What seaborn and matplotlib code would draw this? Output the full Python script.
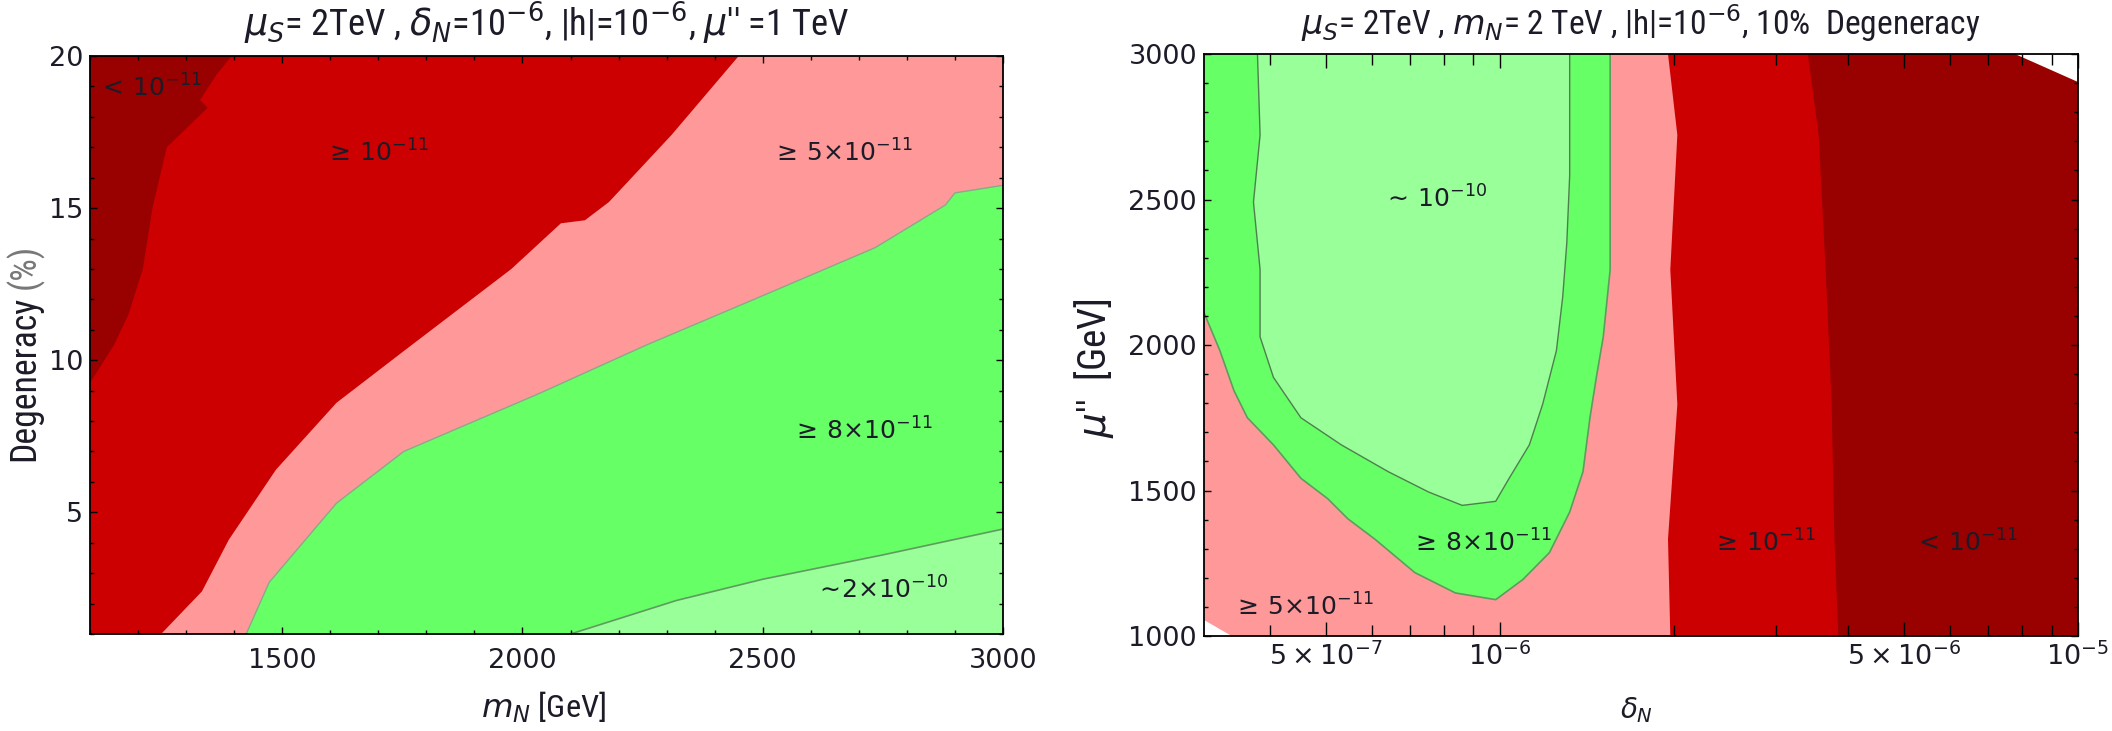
import numpy as np
import matplotlib
matplotlib.use("Agg")
import matplotlib.pyplot as plt
import seaborn as sns
import pandas as pd
from matplotlib import font_manager
from matplotlib.ticker import FixedLocator, FixedFormatter, MultipleLocator, LogLocator, NullFormatter

# ---------------- data: left panel (m_N [GeV] vs degeneracy [%]) ----------------
mN_range = [1100, 3000]
deg_range = [1, 20]
# boundary  < 1e-11  |  >= 1e-11
b1_deg = [20.0, 19.4, 18.55, 18.3, 17.0, 15.0, 13.0, 11.5, 10.5, 9.25]
b1_mN = [1395, 1364, 1329, 1345, 1260, 1230, 1210, 1180, 1150, 1100]
# boundary >= 1e-11 | >= 5e-11
b2_deg = [20.0, 17.4, 15.2, 14.6, 14.5, 13.0, 10.3, 8.6, 6.4, 4.1, 2.4, 1.0]
b2_mN = [2450, 2310, 2180, 2130, 2080, 1977, 1753, 1613, 1487, 1389, 1333, 1248]
# boundary >= 5e-11 | >= 8e-11
b3_mN = [1425, 1473, 1613, 1753, 2034, 2258, 2482, 2734, 2880, 2900, 3000]
b3_deg = [1.0, 2.7, 5.3, 7.0, 8.9, 10.5, 12.0, 13.7, 15.1, 15.5, 15.75]
# boundary >= 8e-11 | ~2e-10
b4_mN = [2100, 2320, 2500, 2750, 3000]
b4_deg = [1.0, 2.1, 2.8, 3.6, 4.45]

left_xticks = [1500, 2000, 2500, 3000]
left_yticks = [5, 10, 15, 20]
left_labels = [r"$<\,10^{-11}$", r"$\geq\,10^{-11}$", r"$\geq\,5{\times}10^{-11}$",
               r"$\geq\,8{\times}10^{-11}$", r"$\sim\!2{\times}10^{-10}$"]
left_label_mN = [1225, 1697, 2665, 2707, 2748]
left_label_deg = [18.95, 16.8, 16.8, 7.66, 2.43]

# ---------------- data: right panel (delta_N vs mu'' [GeV]) ----------------
dN_range = [3.08e-7, 1e-5]
mu_range = [1000, 3000]
# outer boundary of >= 8e-11 (green) region
g_out_dN = [3.08e-7, 3.28e-7, 3.47e-7, 3.66e-7, 4.06e-7, 4.53e-7, 5.04e-7, 5.46e-7, 6.08e-7,
            7.13e-7, 8.38e-7, 9.84e-7, 1.096e-6, 1.219e-6, 1.321e-6, 1.393e-6, 1.432e-6,
            1.469e-6, 1.510e-6, 1.552e-6, 1.552e-6, 1.552e-6]
g_out_mu = [2111, 1981, 1843, 1750, 1657, 1542, 1472, 1403, 1333,
            1218, 1148, 1125, 1194, 1287, 1426, 1565, 1750,
            1889, 2028, 2259, 2722, 3000]
# boundary of ~1e-10 (light green) region
lg_dN = [3.81e-7, 3.85e-7, 3.75e-7, 3.85e-7, 3.85e-7, 4.06e-7, 4.53e-7, 5.32e-7, 6.41e-7,
         7.53e-7, 8.61e-7, 9.84e-7, 1.038e-6, 1.125e-6, 1.186e-6, 1.253e-6, 1.285e-6,
         1.306e-6, 1.321e-6, 1.321e-6, 1.321e-6]
lg_mu = [3000, 2722, 2491, 2259, 2028, 1889, 1750, 1657, 1565,
         1495, 1449, 1463, 1542, 1657, 1796, 1981, 2167,
         2352, 2583, 2815, 3000]
# boundary >= 5e-11 | >= 1e-11
pr_dN = [1.954e-6, 2.028e-6, 1.972e-6, 2.028e-6, 1.954e-6, 1.972e-6]
pr_mu = [3000, 2722, 2259, 1796, 1333, 1000]
# boundary >= 1e-11 | < 1e-11
rd_dN = [3.41e-6, 3.56e-6, 3.66e-6, 3.75e-6, 3.79e-6, 3.85e-6]
rd_mu = [3000, 2722, 2259, 1796, 1333, 1000]
# no-data corners
wtr_dN = [7.77e-6, 1e-5, 1e-5]
wtr_mu = [3000, 3000, 2904]
wbl_dN = [3.08e-7, 3.08e-7, 3.44e-7]
wbl_mu = [1000, 1055, 1000]

right_xticks = [5e-7, 1e-6, 5e-6, 1e-5]
right_xticklabels = [r"$5\times10^{-7}$", r"$10^{-6}$", r"$5\times10^{-6}$", r"$10^{-5}$"]
right_yticks = [1000, 1500, 2000, 2500, 3000]
right_labels = [r"$\sim\,10^{-10}$", r"$\geq\,8{\times}10^{-11}$", r"$\geq\,5{\times}10^{-11}$",
                r"$\geq\,10^{-11}$", r"$<\,10^{-11}$"]
right_label_dN = [7.72e-7, 9.3e-7, 3.45e-7, 2.87e-6, 6.41e-6]
right_label_mu = [2502, 1320, 1100, 1320, 1320]
right_label_ha = ["center", "center", "left", "center", "center"]

# ---------------- style ----------------
DARK = "#990000"
RED = "#cc0000"
PINK = "#ff9999"
GREEN = "#66ff66"
LGREEN = "#99ff99"
EDGE = "#5e9c5e"
TXT = "#1c1c28"

sns.set_theme(style="ticks")
plt.rcParams["font.family"] = ["DejaVu Sans"]
plt.rcParams["mathtext.fontset"] = "dejavusans"

# pick a narrow sans family for titles/labels if one is installed
_fonts = font_manager.fontManager.ttflist
COND = None
for pref in ["Liberation Sans Narrow", "Roboto Condensed", "Open Sans Condensed",
             "Noto Sans Condensed", "DejaVu Sans Condensed"]:
    if any(f.name == pref for f in _fonts):
        COND = dict(family=[pref, "DejaVu Sans"])
        break
if COND is None:
    for f in _fonts:
        if (str(f.stretch) in ("condensed", "semi-condensed") and f.style == "normal"
                and str(f.weight) in ("400", "normal", "regular")):
            COND = dict(family=[f.name, "DejaVu Sans"], stretch=f.stretch)
            break
if COND is None:
    COND = dict(family=["DejaVu Sans"])

fig = plt.figure(figsize=(21.12, 7.31), dpi=100)
axL = fig.add_axes([0.0426, 0.1327, 0.4323, 0.7907])
axR = fig.add_axes([0.5701, 0.1299, 0.4138, 0.7962])


def style_axes(ax):
    for s in ax.spines.values():
        s.set_linewidth(1.3)
        s.set_color("black")
        s.set_zorder(10)
    ax.tick_params(which="both", direction="in", top=True, right=True,
                   colors="black", labelcolor=TXT, labelsize=19.5, width=1.0)
    ax.tick_params(which="major", length=5)
    ax.tick_params(which="minor", length=3)
    ax.set_axisbelow(False)


def fit(t, target_px, dim="w"):
    for _ in range(2):
        fig.canvas.draw()
        bb = t.get_window_extent(fig.canvas.get_renderer())
        cur = bb.width if dim == "w" else bb.height
        if cur > 0:
            t.set_fontsize(t.get_fontsize() * target_px / cur)


# ---------------- left panel ----------------
ax = axL
x0, x1 = mN_range
y0, y1 = deg_range
ax.fill([x0, x1, x1, x0], [y0, y0, y1, y1], color=LGREEN, lw=0)
ax.fill(np.r_[b4_mN, x1, x0, x0], np.r_[b4_deg, y1, y1, y0], color=GREEN, lw=0)
ax.fill(np.r_[b3_mN, x1, x0, x0], np.r_[b3_deg, y1, y1, y0], color=PINK, lw=0)
ax.fill(np.r_[b2_mN, x0, x0], np.r_[b2_deg, y0, y1], color=RED, lw=0)
ax.fill(np.r_[b1_mN, x0], np.r_[b1_deg, y1], color=DARK, lw=0)
sns.lineplot(x=b4_mN, y=b4_deg, sort=False, estimator=None, color=EDGE, lw=1.2, ax=ax)
sns.lineplot(x=b3_mN, y=b3_deg, sort=False, estimator=None, color="#8aa88a", lw=1.0, ax=ax)
ax.set_xlim(x0, x1)
ax.set_ylim(y0, y1)
style_axes(ax)
ax.xaxis.set_major_locator(FixedLocator(left_xticks))
ax.xaxis.set_minor_locator(MultipleLocator(100))
ax.yaxis.set_major_locator(FixedLocator(left_yticks))
ax.yaxis.set_minor_locator(MultipleLocator(1))
ax.tick_params(axis="x", which="both", pad=10)
ax.tick_params(axis="y", which="both", pad=5)
for t, xm, yd in zip(left_labels, left_label_mN, left_label_deg):
    ax.text(xm, yd, t, fontsize=18, color=TXT, ha="center", va="center")
tl = ax.set_title(r"$\mu_S$= 2TeV , $\delta_N$=10$^{-6}$, |h|=10$^{-6}$, $\mu$'' =1 TeV",
                  x=0.5, y=1.057, va="center", pad=0, fontsize=18, color=TXT, **COND)
xl = ax.set_xlabel(r"$m_N$ [GeV]", fontsize=17, color=TXT, va="center", **COND)
ax.xaxis.set_label_coords(0.497, -0.126)
ytr = ax.get_yaxis_transform()
yl1 = ax.text(-0.072, 6.7, "Degeneracy", transform=ytr, rotation=90, rotation_mode="anchor",
              ha="left", va="center", fontsize=17, color=TXT, **COND)
yl2 = ax.text(-0.072, 12.3, "(%)", transform=ytr, rotation=90, rotation_mode="anchor",
              ha="left", va="center", fontsize=17, color="#777777", **COND)

# ---------------- right panel ----------------
ax = axR
x0, x1 = dN_range
y0, y1 = mu_range
ax.set_xscale("log")
ax.fill([x0, x1, x1, x0], [y0, y0, y1, y1], color=DARK, lw=0)
ax.fill(np.r_[rd_dN, x0, x0], np.r_[rd_mu, y0, y1], color=RED, lw=0)
ax.fill(np.r_[pr_dN, x0, x0], np.r_[pr_mu, y0, y1], color=PINK, lw=0)
ax.fill(np.r_[g_out_dN, x0], np.r_[g_out_mu, y1], color=GREEN, lw=0)
ax.fill(lg_dN, lg_mu, color=LGREEN, lw=0)
ax.fill(wtr_dN, wtr_mu, color="white", lw=0)
ax.fill(wbl_dN, wbl_mu, color="white", lw=0)
sns.lineplot(x=g_out_dN, y=g_out_mu, sort=False, estimator=None, color=EDGE, lw=1.2, ax=ax)
sns.lineplot(x=lg_dN, y=lg_mu, sort=False, estimator=None, color="#4f7f4f", lw=1.0, ax=ax)
ax.set_xlim(x0, x1)
ax.set_ylim(y0, y1)
style_axes(ax)
ax.xaxis.set_major_locator(FixedLocator(right_xticks))
ax.xaxis.set_major_formatter(FixedFormatter(right_xticklabels))
ax.xaxis.set_minor_locator(LogLocator(base=10, subs=np.arange(2, 10), numticks=20))
ax.xaxis.set_minor_formatter(NullFormatter())
ax.yaxis.set_major_locator(FixedLocator(right_yticks))
ax.yaxis.set_minor_locator(MultipleLocator(100))
ax.tick_params(axis="x", which="major", length=10, pad=5)
ax.tick_params(axis="x", which="minor", length=8, pad=5)
ax.tick_params(axis="y", which="both", pad=5)
for t, xd, ym, ha in zip(right_labels, right_label_dN, right_label_mu, right_label_ha):
    ax.text(xd, ym, t, fontsize=18, color=TXT, ha=ha, va="center")
tr = ax.set_title(r"$\mu_S$= 2TeV , $m_N$= 2 TeV , |h|=10$^{-6}$, 10%  Degeneracy",
                  x=0.5, y=1.053, va="center", pad=0, fontsize=18, color=TXT, **COND)
xr = ax.set_xlabel(r"$\delta_N$", fontsize=20, color=TXT, va="center")
ax.xaxis.set_label_coords(0.495, -0.127)
yr = ax.set_ylabel(r"$\mu$''  [GeV]", fontsize=17, color=TXT, va="center", **COND)
ax.yaxis.set_label_coords(-0.126, 0.46)

# ---------------- match text extents to the reference ----------------
fit(tl, 605, "w")
fit(tr, 680, "w")
fit(xl, 125, "w")
fit(yl1, 165, "h")
yl2.set_fontsize(yl1.get_fontsize())
fit(yr, 140, "h")
# put "(%)" just after "Degeneracy"
fig.canvas.draw()
_bb = yl1.get_window_extent(fig.canvas.get_renderer())
_top = axL.transData.inverted().transform((0, _bb.y1 + 6))[1]
yl2.set_position((-0.072, _top))

fig.savefig("out.png", dpi=100)
